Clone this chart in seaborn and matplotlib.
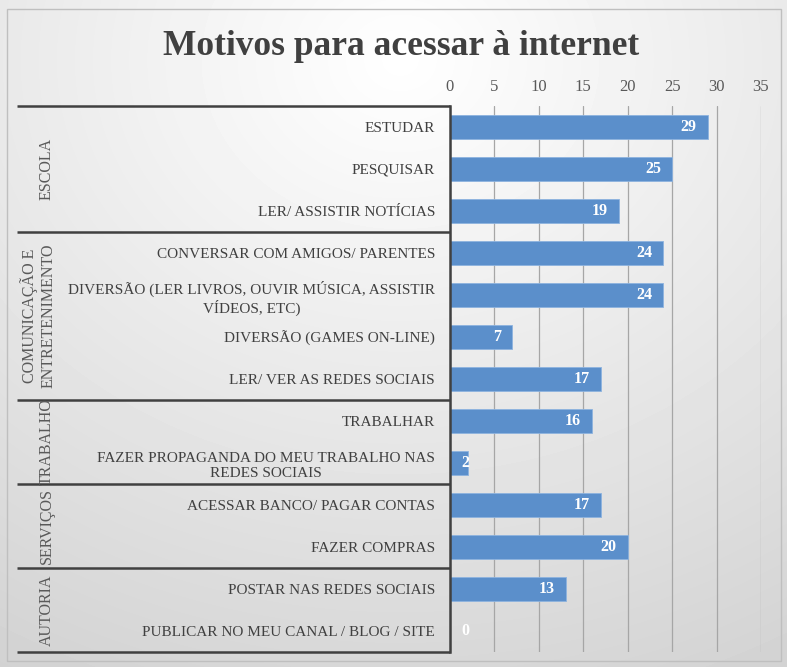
import numpy as np
import matplotlib
matplotlib.use("Agg")
import matplotlib.pyplot as plt
import seaborn as sns
import pandas as pd
from matplotlib.transforms import blended_transform_factory
from matplotlib.patches import Rectangle

# ---- data ----
categories = [
    "ESTUDAR",
    "PESQUISAR",
    "LER/ ASSISTIR NOTÍCIAS",
    "CONVERSAR COM AMIGOS/ PARENTES",
    "DIVERSÃO (LER LIVROS, OUVIR MÚSICA, ASSISTIR\nVÍDEOS, ETC)",
    "DIVERSÃO (GAMES ON-LINE)",
    "LER/ VER AS REDES SOCIAIS",
    "TRABALHAR",
    "FAZER PROPAGANDA DO MEU TRABALHO NAS\nREDES SOCIAIS",
    "ACESSAR BANCO/ PAGAR CONTAS",
    "FAZER COMPRAS",
    "POSTAR NAS REDES SOCIAIS",
    "PUBLICAR NO MEU CANAL / BLOG / SITE",
]
values = [29, 25, 19, 24, 24, 7, 17, 16, 2, 17, 20, 13, 0]
groups = ["ESCOLA", "COMUNICAÇÃO E\nENTRETENIMENTO", "TRABALHO", "SERVIÇOS", "AUTORIA"]
group_sizes = [3, 4, 2, 2, 2]
x_ticks = [0, 5, 10, 15, 20, 25, 30, 35]
title = "Motivos para acessar à internet"

sns.set_theme(style="white")
plt.rcParams['font.family'] = ['Liberation Serif', 'DejaVu Serif']

W, H = 787, 667
fig = plt.figure(figsize=(W / 100, H / 100), dpi=100)

# background radial gradient
bg = fig.add_axes([0, 0, 1, 1], zorder=-10)
yy, xx = np.mgrid[0:H, 0:W]
r = np.sqrt(((xx - 400) / W) ** 2 + ((yy - 60) / H) ** 2)
val = 1 - 0.17 * np.clip(r, 0, 1.05)
bg.imshow(val, cmap="gray", vmin=0, vmax=1, extent=[0, 1, 0, 1], aspect="auto",
          interpolation="bilinear")
bg.axis("off")

# main axes
ax = fig.add_axes([450 / W, 1 - 652 / H, 311 / W, 546 / H])
ax.set_facecolor("none")
df = pd.DataFrame({"motivo": categories, "valor": values})
sns.barplot(data=df, x="valor", y="motivo", orient="h", color="#5B8FCB",
            width=0.57, saturation=1, edgecolor="#8DB3DF", linewidth=0.6, ax=ax)

ax.set_xlabel("")
ax.set_ylabel("")
ax.grid(axis="x", color="#A6A6A6", lw=0.9)
ax.grid(axis="y", visible=False)
ax.set_axisbelow(True)
for s in ["top", "right", "bottom"]:
    ax.spines[s].set_visible(False)
ax.spines["left"].set_color("#404040")
ax.spines["left"].set_linewidth(1.8)
ax.set_yticks(range(len(categories)))
ax.set_yticklabels(categories, fontsize=11, color="#404040", ma="center",
                   linespacing=1.25)
ax.tick_params(axis="y", length=0, pad=10.8)

# data labels
for i, v in enumerate(values):
    if v >= 5:
        ax.annotate(str(v), (v, i), xytext=(-8, 0), textcoords="offset points",
                    ha="right", va="center", color="white", fontweight="bold",
                    fontsize=11.5)
    else:
        ax.annotate(str(v), (0, i), xytext=(8, 0), textcoords="offset points",
                    ha="left", va="center", color="white", fontweight="bold",
                    fontsize=11.5)

# group separators and labels
trans = blended_transform_factory(ax.transAxes, ax.transData)
x_left = (17 - 450) / 311
bounds = np.concatenate([[0], np.cumsum(group_sizes)])
for b in bounds:
    ax.plot([x_left, 0], [b - 0.5, b - 0.5], transform=trans, clip_on=False,
            color="#404040", lw=1.8, solid_capstyle="butt", scalex=False, scaley=False)
for g, s, e in zip(groups, bounds[:-1], bounds[1:]):
    yc = (s + e) / 2 - 0.5
    xc = (47 - 450) / 311 if "\n" not in g else (38 - 450) / 311
    ax.text(xc, yc, g, transform=trans, rotation=90, ha="center", va="center",
            ma="center", fontsize=11.5, color="#595959", clip_on=False)

ax.set_xlim(0, 35)
ax.set_ylim(len(categories) - 0.5, -0.5)
ax.set_xticks(x_ticks)
ax.xaxis.tick_top()
ax.tick_params(axis="x", length=0, pad=8, labelsize=12, labelcolor="#595959")

# title
fig.text(401 / W, 1 - 55 / H, title, ha="center", va="baseline", fontsize=25.5,
         fontweight="bold", color="#404040")

# border
fig.patches.append(Rectangle((7 / W, 1 - 661 / H), (781 - 7) / W, (661 - 9) / H,
                             transform=fig.transFigure, fill=False,
                             ec="#BFBFBF", lw=1))

fig.savefig("out.png", dpi=100)
